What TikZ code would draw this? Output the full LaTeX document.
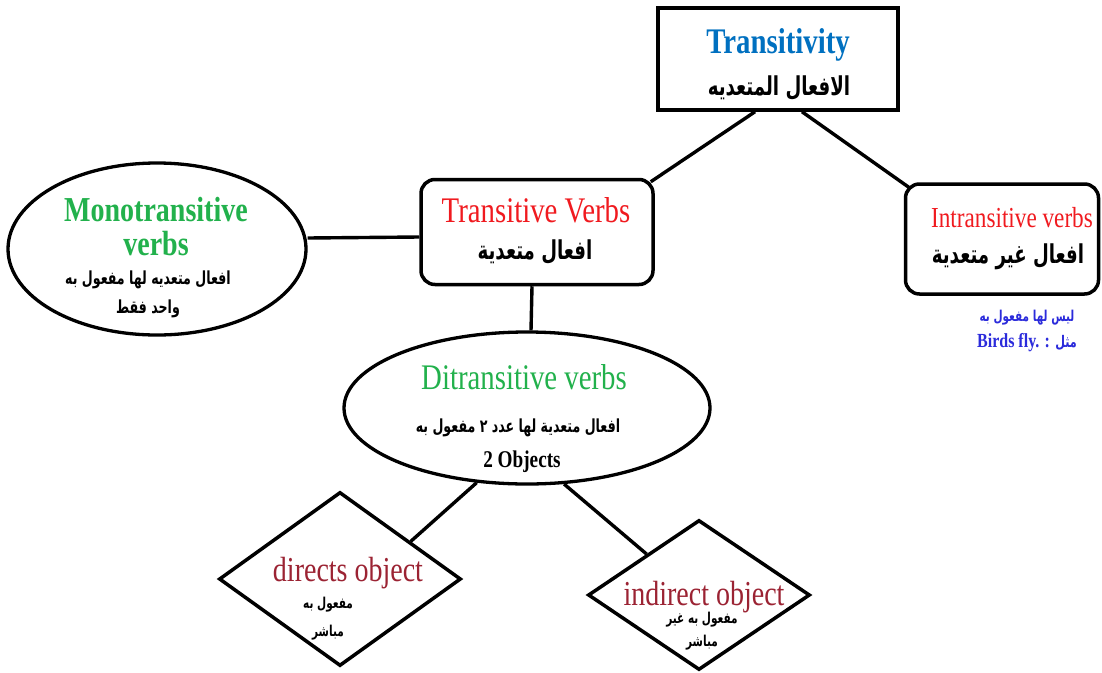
\documentclass[tikz,border=0pt]{standalone}
\usepackage{fontspec}
\usepackage{xcolor}
\usetikzlibrary{shapes.geometric}
\TeXXeTstate=1
\newfontfamily\enfont[FakeStretch=0.8]{Liberation Serif}
\newfontfamily\arfont[Script=Arabic,FakeStretch=0.7]{DejaVu Sans}
\newcommand\entitle{\enfont\fontsize{36}{31}\selectfont}
\newcommand\arbig{\arfont\bfseries\fontsize{26}{26}\selectfont}
\newcommand\arsmall{\arfont\bfseries\fontsize{18}{29}\selectfont}
\definecolor{trblue}{HTML}{0070C0}
\definecolor{trred}{HTML}{F01A1F}
\definecolor{trgreen}{HTML}{22B14C}
\definecolor{trmaroon}{HTML}{9B2333}
\definecolor{noteblue}{HTML}{2B2BDB}

\begin{document}
\begin{tikzpicture}[x=1pt, y=-1pt,
  box/.style = {draw, line width=3.5pt, inner sep=0pt},
  rbox/.style = {box, rounded corners=14pt},
  oval/.style = {draw, ellipse, line width=3.3pt, inner sep=0pt},
  dia/.style = {draw, diamond, line width=3.5pt, inner sep=0pt},
  txt/.style = {inner sep=0pt, align=center},
  link/.style = {line width=3.4pt}]
  \useasboundingbox (0,0) rectangle (1102,672);

  % shapes
  \node[box, minimum width=240pt, minimum height=102pt] (t) at (778,59) {};
  \node[rbox, minimum width=232pt, minimum height=105pt] (tv) at (537,232) {};
  \node[rbox, minimum width=193pt, minimum height=110pt] (iv) at (1002,239) {};
  \node[oval, minimum width=298pt, minimum height=172pt] (mv) at (157,249) {};
  \node[oval, minimum width=366pt, minimum height=152pt] (dv) at (527,408) {};
  \node[dia, minimum width=242pt, minimum height=174pt] (do) at (340,579) {};
  \node[dia, minimum width=222pt, minimum height=150pt] (io) at (699,595) {};

  % texts
  \node[txt, font=\entitle\bfseries, text=trblue] (t1) at (778,45) {Transitivity};
  \node[txt, font=\arbig] (t2) at (779,88) {\beginR الافعال المتعديه\endR};

  \node[txt, font=\entitle, text=trred] (tv1) at (536,210) {Transitive Verbs};
  \node[txt, font=\arbig] (tv2) at (535,252) {\beginR افعال متعدية\endR};

  \node[txt, font=\enfont\fontsize{29}{29}\selectfont, text=trred] (iv1) at (1012,218) {Intransitive verbs};
  \node[txt, font=\arbig] (iv2) at (1008,257) {\beginR افعال غير متعدية\endR};
  \node[txt, font=\arfont\bfseries\fontsize{15}{15}\selectfont, text=noteblue] (iv3) at (1027,318) {\beginR ليس لها مفعول به\endR};
  \node[txt, font=\enfont\bfseries\fontsize{20}{20}\selectfont, text=noteblue] (iv4) at (1027,343)
    {Birds fly. : {\arfont\fontsize{16}{16}\selectfont\beginR مثل\endR}};

  \node[txt, font=\enfont\bfseries\fontsize{35}{34}\selectfont, text=trgreen] (mv1) at (156,227) {Monotransitive\\verbs};
  \node[txt, font=\arsmall] (mv2) at (148,294) {\beginR افعال متعديه لها مفعول به\endR\\\beginR واحد فقط\endR};

  \node[txt, font=\entitle, text=trgreen] (dv1) at (524,377) {Ditransitive verbs};
  \node[txt, font=\arsmall] (dv2) at (518,428) {\beginR افعال متعدية لها عدد ٢ مفعول به\endR};
  \node[txt, font=\enfont\bfseries\fontsize{24}{24}\selectfont] (dv3) at (522,462) {2 Objects};

  \node[txt, font=\enfont\fontsize{35}{35}\selectfont, text=trmaroon] (do1) at (348,573) {directs object};
  \node[txt, font=\arfont\bfseries\fontsize{15}{28}\selectfont] (do2) at (328,619) {\beginR مفعول به\endR\\\beginR مباشر\endR};

  \node[txt, font=\enfont\fontsize{35}{35}\selectfont, text=trmaroon] (io1) at (704,597) {indirect object};
  \node[txt, font=\arfont\bfseries\fontsize{15}{23}\selectfont] (io2) at (702,631) {\beginR مفعول به غير\endR\\\beginR مباشر\endR};

  % connectors
  \draw[link] ([xshift=-23pt]t.south) -- ([xshift=-4pt,yshift=-4pt]tv.north east);
  \draw[link] ([xshift=24pt]t.south) -- ([xshift=5pt,yshift=-5pt]iv.north west);
  \draw[link] ([yshift=11pt]mv.east) -- ([yshift=-5pt]tv.west);
  \draw[link] ([xshift=-5pt]tv.south) -- ([xshift=4pt]dv.north);
  \draw[link] (dv.236) -- (do.28);
  \draw[link] (dv.296) -- (io.142);
\end{tikzpicture}
\end{document}
